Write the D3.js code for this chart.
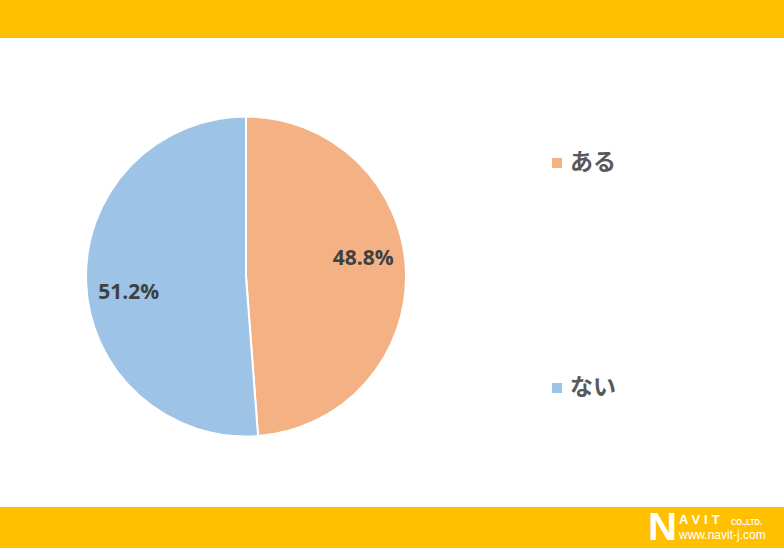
<!DOCTYPE html>
<html>
<head>
<meta charset="utf-8">
<script src="https://cdn.jsdelivr.net/npm/d3@7"></script>
<style>
  body { margin: 0; background: #fff; }
  svg { display: block; }
</style>
</head>
<body>
<div id="chart"></div>
<script>
var categories = ["ある", "ない"]
var values = [48.8, 51.2]
var labels = ["48.8%", "51.2%"]
var colors = ["#F4B183", "#9DC3E6"]

var W = 784, H = 548
var cx = 246, cy = 276.5, r = 160

var svg = d3.select("#chart").append("svg")
    .attr("width", W)
    .attr("height", H)

// top and bottom bands
svg.append("rect").attr("x", 0).attr("y", 0).attr("width", W).attr("height", 38).attr("fill", "#FFC000")
svg.append("rect").attr("x", 0).attr("y", 507).attr("width", W).attr("height", H - 507).attr("fill", "#FFC000")

var pie = d3.pie().sort(null).value(d => d)
var arcs = pie(values)
var arc = d3.arc().innerRadius(0).outerRadius(r)

var g = svg.append("g").attr("transform", "translate(" + cx + "," + cy + ")")

g.selectAll("path")
    .data(arcs)
    .enter().append("path")
    .attr("d", arc)
    .attr("fill", (d, i) => colors[i])
    .attr("stroke", "#fff")
    .attr("stroke-width", 2)

// data labels (slightly rotated from the centroid, like the original best-fit)
var labelR = r * 0.74, shift = -6 * Math.PI / 180
function labelPos(d){
    var a = (d.startAngle + d.endAngle) / 2 + shift
    return [labelR * Math.sin(a), -labelR * Math.cos(a)]
}
g.selectAll("text.lbl")
    .data(arcs)
    .enter().append("text")
    .attr("class", "lbl")
    .attr("transform", d => "translate(" + labelPos(d) + ")")
    .attr("text-anchor", "middle")
    .attr("dominant-baseline", "middle")
    .attr("font-family", "'Open Sans', 'DejaVu Sans', sans-serif")
    .attr("font-weight", "bold")
    .attr("font-size", "21px")
    .attr("fill", "#404040")
    .text((d, i) => labels[i])

// legend
var legendY = [163, 388]
var legend = svg.selectAll("g.legend")
    .data(categories)
    .enter().append("g")
    .attr("class", "legend")
    .attr("transform", (d, i) => "translate(552," + legendY[i] + ")")

legend.append("rect")
    .attr("x", 0).attr("y", -5)
    .attr("width", 10).attr("height", 10)
    .attr("fill", (d, i) => colors[i])

legend.append("text")
    .attr("x", 18).attr("y", 1)
    .attr("dominant-baseline", "middle")
    .attr("font-family", "'Noto Sans CJK JP', sans-serif")
    .attr("font-weight", "bold")
    .attr("font-size", "23px")
    .attr("fill", "#595959")
    .text(d => d)

// logo
var logo = svg.append("g").attr("fill", "#fff")
    .attr("font-family", "'Liberation Sans', Arial, sans-serif")
    .attr("font-weight", "bold")
logo.append("text")
    .attr("x", 648).attr("y", 540)
    .attr("font-size", "38px")
    .attr("textLength", 29)
    .attr("lengthAdjust", "spacingAndGlyphs")
    .text("N")
logo.append("text")
    .attr("x", 679).attr("y", 524)
    .attr("font-size", "13px")
    .attr("letter-spacing", "4px")
    .text("AVIT")
logo.append("text")
    .attr("x", 731).attr("y", 525)
    .attr("font-size", "9.5px")
    .attr("textLength", 31)
    .attr("lengthAdjust", "spacingAndGlyphs")
    .text("CO.,LTD.")
logo.append("text")
    .attr("x", 679).attr("y", 539)
    .attr("font-weight", "normal")
    .attr("font-size", "12px")
    .text("www.navit-j.com")
</script>
</body>
</html>
